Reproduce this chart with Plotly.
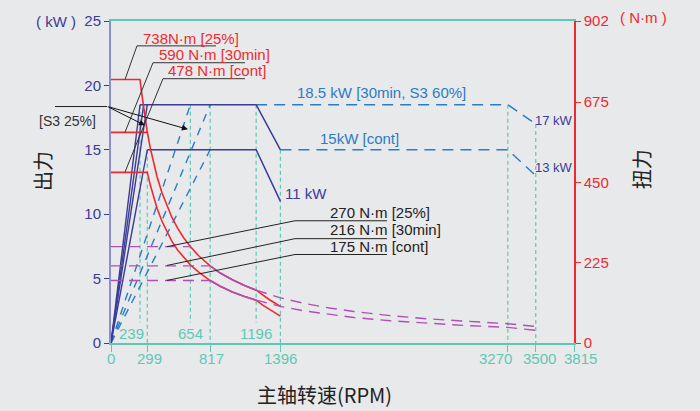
import plotly.graph_objects as go

# ---------------- data ----------------
x_max = 3815
x_tick_vals = [0, 299, 817, 1396, 3270, 3500, 3815]
x_tick_text = ["0", "299", "817", "1396", "3270", "3500", "3815"]
x_tick_label_pos = [0, 317, 828, 1396, 3172, 3527, 3865]
x_inner_ticks = [239, 654, 1196]
x_inner_label_pos = [165, 654, 1196]
kw_ticks = [0, 5, 10, 15, 20, 25]
nm_ticks = [0, 225, 450, 675, 902]

# solid power lines (kW)
pw_s3_rpm = [239, 1196, 1396]
pw_s3_kw = [18.5, 18.5, 15]
pw_cont_rpm = [299, 1196, 1396]
pw_cont_kw = [15, 15, 11]
ramp_end_rpm = [239, 269, 299, 299]
ramp_end_kw = [18.5, 18.5, 18.5, 15]

# dashed power lines (kW)
ext_s3_rpm = [1196, 3270, 3500]
ext_s3_kw = [18.5, 18.5, 17]
ext_cont_rpm = [1396, 3270, 3500]
ext_cont_kw = [15, 15, 13]
hi_ramp_end_rpm = [654, 817, 817]
hi_ramp_end_kw = [18.5, 18.5, 15]

# guide lines: rpm, top (kW), bottom (kW)
guide_rpm = [239, 299, 654, 817, 1196, 1396, 3270, 3500]
guide_top = [18.5, 15, 18.5, 18.5, 18.5, 15, 18.5, 17]
guide_bot = [1.6, 0, 1.6, 0, 1.6, 0, 0, 0]

# red torque curves (N·m)
tq_s3_rpm = [0, 239, 250, 265, 280, 299, 325, 350, 380, 420, 460, 500, 550, 600, 654, 720, 817,
             900, 1000, 1100, 1196, 1250, 1300, 1350, 1396]
tq_s3_nm = [738, 738, 707, 667, 631, 591, 544, 505, 465, 421, 384, 353, 321, 294, 270, 245, 216,
            196, 177, 161, 148, 134, 122.5, 112, 102.6]
tq_30_rpm = [0, 299]
tq_30_nm = [590, 590]
tq_cont_rpm = [0, 299, 325, 350, 380, 420, 460, 500, 550, 600, 654, 720, 817,
               900, 1000, 1100, 1196, 1250, 1300, 1350, 1396]
tq_cont_nm = [478, 478, 441, 409, 377, 341, 311, 286, 260, 239, 219, 199, 175,
              159, 143, 130, 120, 106, 95, 84, 75.2]

# purple torque lines (N·m)
p270_rpm = [0, 654]
p270_nm = [270, 270]
p216_rpm = [0, 817]
p216_nm = [216, 216]
p175_rpm = [0, 817]
p175_nm = [175, 175]
ov_rpm = [817, 900, 1000, 1100, 1196]
ov_hi_nm = [216, 196, 177, 161, 148]
ov_lo_nm = [175, 159, 143, 130, 120]
tail_rpm = [1196, 1300, 1396, 1600, 1800, 2000, 2300, 2600, 2900, 3270, 3500]
tail_hi_nm = [148, 136, 126.6, 110.4, 98.1, 88.3, 76.8, 67.9, 60.9, 54.0, 46.4]
tail_lo_nm = [120, 110.2, 102.6, 89.5, 79.6, 71.6, 62.3, 55.1, 49.4, 43.8, 35.5]

# ---------------- style ----------------
NAVY = "#3b3b98"
BLUE = "#2b7cc6"
RED = "#ee2a2e"
PURP = "#b050b4"
TEAL = "#5ec8b4"
BG = "#e8e9eb"
FONT = "Liberation Sans, Arial, sans-serif"
CJK = "Noto Sans CJK SC, sans-serif"

fig = go.Figure()

def add(x, y, color, width=1.4, dash=None, axis="y"):
    fig.add_trace(go.Scatter(x=x, y=y, mode="lines", yaxis=axis, hoverinfo="skip",
                             line=dict(color=color, width=width, dash=dash)))

# guide lines
for r, t, b in zip(guide_rpm, guide_top, guide_bot):
    add([r, r], [t, b], TEAL, 1.2, "4px,3px")

# dashed blue
for r, k in zip(hi_ramp_end_rpm, hi_ramp_end_kw):
    add([0, r], [0, k], BLUE, 1.4, "8px,7px")
add(ext_s3_rpm, ext_s3_kw, BLUE, 1.4, "11px,7px")
add(ext_cont_rpm, ext_cont_kw, BLUE, 1.4, "11px,7px")

# solid navy
for r, k in zip(ramp_end_rpm, ramp_end_kw):
    add([0, r], [0, k], NAVY, 1.4)
add(pw_s3_rpm, pw_s3_kw, NAVY, 1.5)
add(pw_cont_rpm, pw_cont_kw, NAVY, 1.5)

# red torque
add(tq_s3_rpm, tq_s3_nm, RED, 1.6, axis="y2")
add(tq_30_rpm, tq_30_nm, RED, 1.6, axis="y2")
add(tq_cont_rpm, tq_cont_nm, RED, 1.6, axis="y2")

# purple
add(p270_rpm, p270_nm, PURP, 1.4, "11px,7px", "y2")
add(p216_rpm, p216_nm, PURP, 1.4, "11px,7px", "y2")
add(p175_rpm, p175_nm, PURP, 1.4, "11px,7px", "y2")
add(ov_rpm, ov_hi_nm, PURP, 1.6, axis="y2")
add(ov_rpm, ov_lo_nm, PURP, 1.6, axis="y2")
add(tail_rpm, tail_hi_nm, PURP, 1.4, "11px,7px", "y2")
add(tail_rpm, tail_lo_nm, PURP, 1.4, "11px,7px", "y2")

shapes = []
def leader(pts, color="#333333"):
    path = "M " + " L ".join(f"{x},{y}" for x, y in pts)
    shapes.append(dict(type="path", path=path, xref="x", yref="y",
                       line=dict(color=color, width=1)))

leader([(115, 20.45), (214, 23.07), (865, 23.07)])
leader([(115, 16.36), (346, 21.76), (1104, 21.76)])
leader([(115, 13.27), (428, 20.52), (1104, 20.52)])
leader([(461, 7.48), (1516, 9.49), (2274, 9.49)], "#222222")
leader([(461, 6.02), (1516, 8.10), (2274, 8.10)], "#222222")
leader([(461, 4.86), (1516, 6.87), (2274, 6.87)], "#222222")
shapes.append(dict(type="line", xref="paper", yref="y", x0=-0.121, x1=-0.008, y0=18.36, y1=18.36,
                   line=dict(color="#222222", width=1)))

ann = []
def txt(x, y, s, color, size=15, xanchor="left", xref="x", yref="y", angle=0, family=FONT):
    ann.append(dict(x=x, y=y, text=s, xref=xref, yref=yref, showarrow=False, xanchor=xanchor,
                    yanchor="middle", textangle=angle, font=dict(color=color, size=size, family=family)))

txt(247, 23.61, "738N·m [25%]", RED)
txt(379, 22.38, "590 N·m [30min]", RED)
txt(453, 21.14, "478 N·m [cont]", RED)
txt(1788, 10.11, "270 N·m [25%]", "#222222")
txt(1788, 8.80, "216 N·m [30min]", "#222222")
txt(1788, 7.48, "175 N·m [cont]", "#222222")
txt(1516, 19.44, "18.5 kW [30min, S3 60%]", BLUE)
txt(1706, 15.9, "15kW [cont]", BLUE)
txt(3650, 17.28, "17 kW", NAVY, 13, "center")
txt(3650, 13.66, "13 kW", NAVY, 13, "center")
txt(1417, 11.57, "11 kW", NAVY, 15)
txt(-0.095, 17.2, "[S3 25%]", "#333333", 14, "center", "paper")
for p, v in zip(x_inner_label_pos, x_inner_ticks):
    txt(p, 0.77, str(v), TEAL, 15, "center")
for p, s in zip(x_tick_label_pos, x_tick_text):
    txt(p / x_max, -0.049, s, TEAL, 15, "center", "paper", "paper")
txt(-0.119, 1.0, "( kW )", NAVY, 15, "center", "paper", "paper")
txt(1.151, 1.01, "( N·m )", RED, 15, "center", "paper", "paper")
txt(-0.149, 0.534, "出力", "#222222", 20, "center", "paper", "paper", -90, CJK)
txt(1.145, 0.54, "扭力", "#222222", 20, "center", "paper", "paper", -90, CJK)
txt(0.462, -0.16, "主轴转速(RPM)", "#222222", 20, "center", "paper", "paper", 0, CJK)

for hx, hy, ax, ay in [(280, 16.9, -38, -19), (634, 16.59, -81, -23)]:
    ann.append(dict(x=hx, y=hy, xref="x", yref="y", text="", showarrow=True, ax=ax, ay=ay,
                    arrowhead=2, arrowsize=1.2, arrowwidth=1, arrowcolor="#111111"))

fig.update_layout(
    width=700, height=411,
    margin=dict(l=111, r=126, t=19, b=68),
    paper_bgcolor=BG, plot_bgcolor=BG,
    showlegend=False,
    font=dict(family=FONT),
    shapes=shapes, annotations=ann,
    xaxis=dict(range=[0, x_max], tickvals=x_tick_vals, showticklabels=False, ticks="outside",
               ticklen=7, tickcolor=TEAL, showline=True, linecolor=TEAL, linewidth=2, mirror=True,
               showgrid=False, zeroline=False),
    yaxis=dict(range=[0, 25], tickvals=kw_ticks, ticks="outside", ticklen=5, tickcolor=NAVY,
               showline=True, linecolor="#8c8cd2", linewidth=2, showgrid=False, zeroline=False,
               tickfont=dict(color=NAVY, size=15)),
    yaxis2=dict(range=[0, 902], tickvals=nm_ticks, overlaying="y", side="right", ticks="outside",
                ticklen=5, tickcolor=RED, showline=True, linecolor=RED, linewidth=1.5,
                showgrid=False, zeroline=False, tickfont=dict(color=RED, size=15)),
)

fig.write_html("out.html", config={"displayModeBar": False},
               post_script="document.body.style.margin='0';document.body.style.background='#e8e9eb';document.body.style.overflow='hidden';")
